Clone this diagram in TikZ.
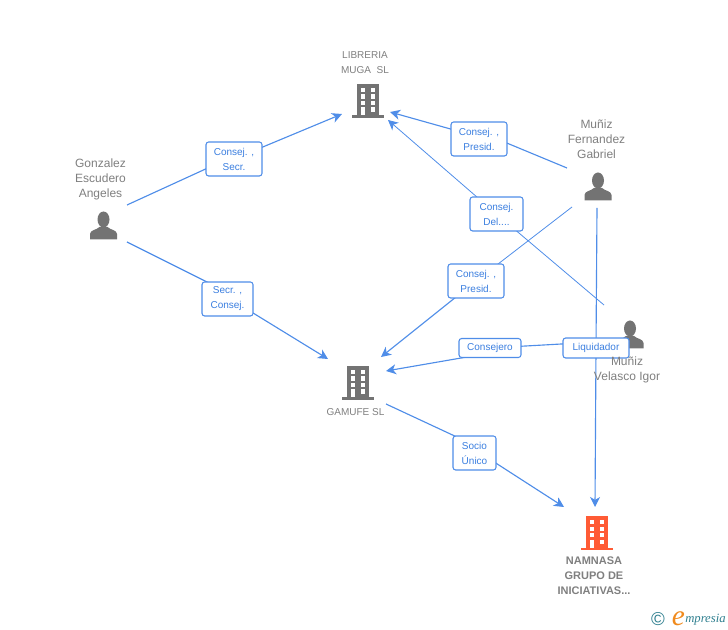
\documentclass[tikz,border=0pt]{standalone}
\usepackage{fontspec}
\setmainfont{Liberation Sans}
\newfontfamily\logofont{Liberation Serif}
\usetikzlibrary{arrows.meta}
\definecolor{txtgray}{HTML}{7F7F7F}
\definecolor{icongray}{HTML}{737373}
\definecolor{iconred}{HTML}{FF5B35}
\definecolor{edgeblue}{HTML}{4F8DE8}
\definecolor{labelblue}{HTML}{3B7FE0}
\definecolor{logoteal}{HTML}{2F7F8F}
\definecolor{logoorange}{HTML}{F08A1D}
\tikzset{
  x=0.75pt,y=-0.75pt,
  edgeline/.style={draw=edgeblue,line width=0.85pt},
  arrowline/.style={edgeline,-{Stealth[length=7.5pt,width=7.5pt,inset=2.2pt]}},
  linkbox/.style={draw=edgeblue,line width=0.8pt,rounded corners=2pt,fill=white,text=labelblue,
    font=\fontsize{7.5pt}{11.25pt}\selectfont,align=center,inner sep=0pt},
  wide/.style={minimum width=42pt,minimum height=25.5pt},
  entity/.style={text=txtgray,align=center,inner sep=0pt},
  small/.style={entity,font=\fontsize{7.5pt}{11.25pt}\selectfont},
  large/.style={entity,font=\fontsize{9pt}{11.25pt}\selectfont},
  boldname/.style={entity,font=\fontsize{8.25pt}{11.25pt}\selectfont\bfseries},
  building/.pic={
    \fill[pic actions] (-11,-17) rectangle (11,15);
    \fill[pic actions] (-16,14.5) rectangle (16,17);
    \foreach \yy in {-13,-6.5,0} {
      \fill[white] (-7.3,\yy) rectangle (-2.7,\yy+4.4);
      \fill[white] (2.7,\yy) rectangle (7.3,\yy+4.4);
    }
    \fill[white] (2.7,6.5) rectangle (7.3,10.9);
    \fill[white] (-7.3,6.5) rectangle (-2.7,14.5);
  },
  person/.pic={
    \fill[pic actions] (0,-6.5) ellipse (6 and 8);
    \fill[pic actions] (-13.5,13.5) -- (-13.5,8) .. controls (-13.5,4) and (-7,4) .. (-4,1)
      -- (4,1) .. controls (7,4) and (13.5,4) .. (13.5,8) -- (13.5,13.5) -- cycle;
  }
}
\begin{document}
\begin{tikzpicture}
\useasboundingbox (0,0) rectangle (728,630);

% free ends of the connectors
\coordinate (gonzA) at (127,205);
\coordinate (gonzB) at (127,242);
\coordinate (librL) at (342,114);
\coordinate (librR) at (390,112);
\coordinate (librD) at (388,120);
\coordinate (gamL) at (328,359);
\coordinate (gamT) at (381,357);
\coordinate (gamR) at (386,371);
\coordinate (gamS) at (386,404);
\coordinate (namL) at (564,507);
\coordinate (namT) at (595,507);
\coordinate (munA) at (567,168);
\coordinate (munB) at (572,207);
\coordinate (munC) at (597,208);
\coordinate (velA) at (604,305);
\coordinate (velB) at (615,341);

% attachment points hidden under the label boxes
\coordinate (a1) at (234,156);
\coordinate (b1) at (234,159);
\coordinate (a2) at (227,292);
\coordinate (b2) at (227,297);
\coordinate (a3) at (479,131.5);
\coordinate (b3) at (479,137);
\coordinate (a4) at (496.5,214);
\coordinate (a5) at (476,281);
\coordinate (a6) at (490,348);
\coordinate (b6) at (490,353);
\coordinate (a7) at (596,348);
\coordinate (a8) at (474,445);
\coordinate (b8) at (474,449);

% connectors
\draw[edgeline] (gonzA) -- (a1);
\draw[arrowline] (b1) -- (librL);
\draw[edgeline] (gonzB) -- (a2);
\draw[arrowline] (b2) -- (gamL);
\draw[edgeline] (munA) -- (a3);
\draw[arrowline] (b3) -- (librR);
\draw[edgeline,line width=0.6pt] (velA) -- (a4);
\draw[arrowline,line width=0.6pt] (a4) -- (librD);
\draw[edgeline,line width=0.6pt] (munB) -- (a5);
\draw[arrowline] (a5) -- (gamT);
\draw[edgeline] (velB) -- (a6);
\draw[arrowline] (b6) -- (gamR);
\draw[edgeline] (gamS) -- (a8);
\draw[arrowline] (b8) -- (namL);
\draw[edgeline] (munC) -- (a7);
\draw[arrowline] (a7) -- (namT);

% connector labels
\node[linkbox,wide] (l1) at (234,159) {Consej. ,\\Secr.};
\node[linkbox,minimum width=38.25pt,minimum height=25.5pt] (l2) at (227.5,299) {Secr. ,\\Consej.};
\node[linkbox,wide] (l3) at (479,139) {Consej. ,\\Presid.};
\node[linkbox,minimum width=39.75pt,minimum height=25.5pt] (l4) at (496.5,214) {Consej.\\Del....};
\node[linkbox,wide] (l5) at (476,281) {Consej. ,\\Presid.};
\node[linkbox,minimum width=46.5pt,minimum height=14.25pt] (l6) at (490,348) {Consejero};
\node[linkbox,minimum width=32.25pt,minimum height=25.5pt] (l8) at (474.5,453) {Socio\\Único};

% icons
\pic[fill=icongray] at (368,101) {building};
\pic[fill=icongray] at (358,383) {building};
\pic[fill=iconred] at (597,533) {building};
\pic[fill=icongray] at (103.5,226) {person};
\pic[fill=icongray] at (598,187) {person};
\pic[fill=icongray] at (630,335) {person};

\node[linkbox,minimum width=49.5pt,minimum height=15pt] (l7) at (596,348) {Liquidador};

% entity names
\node[small] (nlib) at (365,62.5) {LIBRERIA\\MUGA\ \ SL};
\node[small] (ngam) at (355.5,412) {GAMUFE SL};
\node[large] (ngon) at (100.5,179) {Gonzalez\\Escudero\\Angeles};
\node[large] (nmuf) at (596.5,139) {Muñiz\\Fernandez\\Gabriel};
\node[large] (nvel) at (627,369.5) {Muñiz\\Velasco Igor};
\node[boldname] (nnam) at (594,575.5) {NAMNASA\\GRUPO DE\\INICIATIVAS...};

% logo
\node[inner sep=0pt,text=logoteal,font=\fontsize{14pt}{14pt}\selectfont] (logoc) at (658,619) {©};
\node[inner sep=0pt,text=logoorange,font=\logofont\itshape\fontsize{22pt}{22pt}\selectfont,anchor=base west] (logoe) at (671.5,625) {e};
\node[inner sep=0pt,text=logoteal,font=\logofont\itshape\fontsize{9.5pt}{10pt}\selectfont,anchor=base west] (logom) at (685,622) {mpresia};
\end{tikzpicture}
\end{document}
